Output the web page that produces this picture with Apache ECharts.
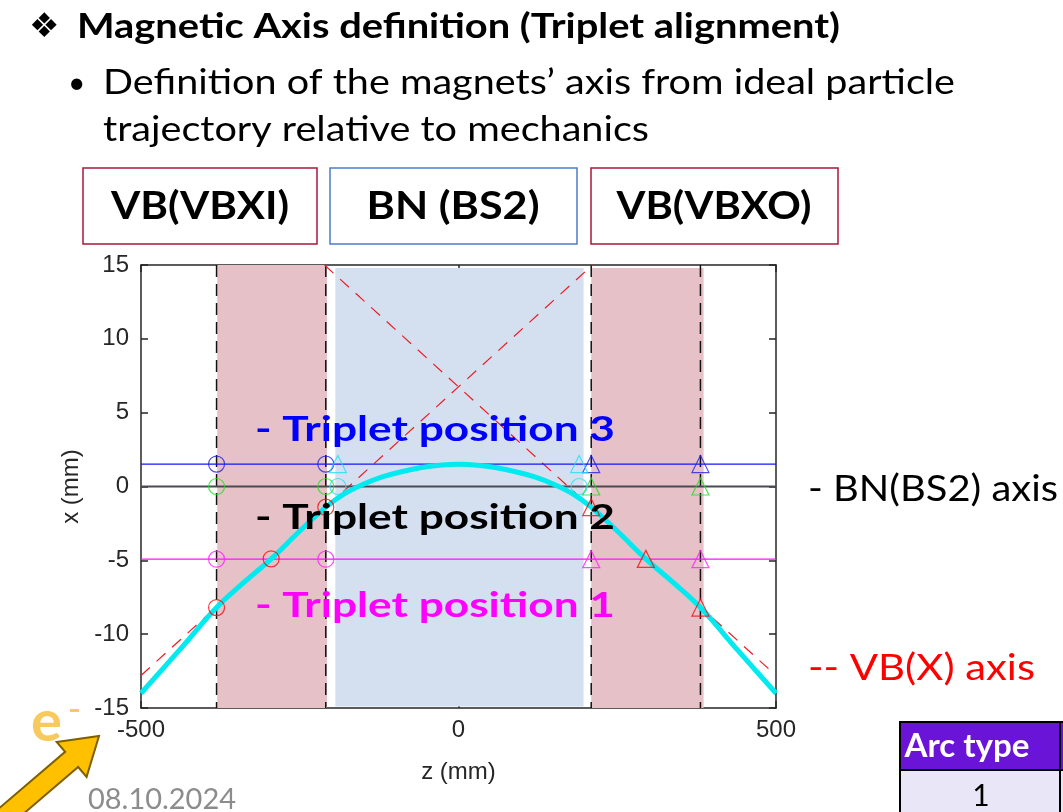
<!DOCTYPE html>
<html lang="en">
<head>
    <meta charset="UTF-8">
    <title>Magnetic Axis definition</title>
    <script src="https://cdn.jsdelivr.net/npm/echarts@6/dist/echarts.min.js"></script>
    <style>
        html, body { margin: 0; padding: 0; background: #fff; }
        #main { width: 1063px; height: 812px; }
    </style>
</head>
<body>
<div id="main"></div>
<script>
    // ---- data (z in mm, x in mm) ----
    var trajZ = [-500, -440, -381, -338, -295, -252, -209, -180, -150, -120, -90, -60, -30, 0,
                 30, 60, 90, 120, 150, 180, 209, 252, 295, 338, 381, 440, 500];
    var trajX = [-14, -11.1, -8.2, -6.5, -4.9, -3.1, -1.4, -0.5, 0.15, 0.65, 1.0, 1.27, 1.44, 1.5,
                 1.44, 1.27, 1.0, 0.65, 0.15, -0.5, -1.4, -3.1, -4.9, -6.5, -8.2, -11.1, -14];
    var vbAxisA = [[-211, 15], [500, -12.8]];
    var vbAxisB = [[-500, -12.8], [211, 15]];
    var magnetEdges = [-381, -209, 209, 381];
    var vbBands = [[-380, -207], [209, 386]];
    var bnBand = [-194, 197];
    var tripletLevels = [1.52, 0, -4.92];       // position 3, 2, 1
    var circleZ = [-381, -209];
    var triangleZ = [209, 381];
    var redCircles = [[-381, -8.2], [-295, -4.9], [-209, -1.4]];
    var redTriangles = [[209, -1.4], [295, -4.9], [381, -8.2]];
    var cyanZ = [-190, 190];
    var zRange = [-500, 500];
    var xRange = [-15, 15];

    var myChart = echarts.init(document.getElementById('main'));

    // helper to squeeze text to the width it has on the slide
    var ctx = document.createElement('canvas').getContext('2d');
    function fitScale(text, font, w) {
        ctx.font = font;
        return w / ctx.measureText(text).width;
    }
    function txt(text, x, y, w, font, fill, align) {
        return {
            type: 'text', x: x, y: y, z: 100,
            scaleX: fitScale(text, font, w),
            style: {text: text, font: font, fill: fill, align: align || 'left', verticalAlign: 'middle'}
        };
    }

    function hline(y) { return [[zRange[0], y], [zRange[1], y]]; }
    function vline(z) { return [[z, xRange[1]], [z, xRange[0]]]; }
    function atLevel(zs, y) { return zs.map(function (z) { return [z, y]; }); }

    function markers(name, data, shape, color) {
        return {
            name: name, type: 'scatter', data: data, symbol: shape, symbolSize: shape == 'circle' ? 16 : 17,
            z: 6, silent: true,
            itemStyle: {color: 'transparent', borderColor: color, borderWidth: 1.2}
        };
    }

    var series = [];
    // shaded magnet regions
    series.push({
        type: 'line', data: [], z: 1, silent: true,
        markArea: {
            silent: true,
            data: [
                [{coord: [vbBands[0][0], 15], itemStyle: {color: '#e6c1c8'}}, {coord: [vbBands[0][1], -15]}],
                [{coord: [bnBand[0], 14.8], itemStyle: {color: '#d4dff0'}}, {coord: [bnBand[1], -14.9]}],
                [{coord: [vbBands[1][0], 14.8], itemStyle: {color: '#e6c1c8'}}, {coord: [vbBands[1][1], -15]}]
            ]
        }
    });
    // magnet edges
    magnetEdges.forEach(function (z) {
        series.push({
            type: 'line', data: vline(z), symbol: 'none', z: 3, silent: true,
            lineStyle: {color: '#111', width: 1.5, type: [12, 7]}
        });
    });
    // VB(X) axes
    [vbAxisA, vbAxisB].forEach(function (d) {
        series.push({
            type: 'line', data: d, symbol: 'none', z: 3, silent: true,
            lineStyle: {color: '#ee1c25', width: 1.2, type: [12, 9]}
        });
    });
    // triplet position lines
    var levelColors = ['#1515ff', '#4a4a55', '#ff10ff'];
    tripletLevels.forEach(function (y, i) {
        series.push({
            type: 'line', data: hline(y), symbol: 'none', z: 4, silent: true,
            lineStyle: {color: levelColors[i], width: i == 1 ? 1.8 : 1.2}
        });
    });
    // trajectory
    series.push({
        type: 'line', data: trajZ.map(function (z, i) { return [z, trajX[i]]; }),
        symbol: 'none', smooth: 0.4, z: 5, silent: true,
        lineStyle: {color: '#00eaf0', width: 5}
    });
    series.push(markers('b', atLevel(circleZ, tripletLevels[0]), 'circle', '#2020e0'));
    series.push(markers('b', atLevel(triangleZ, tripletLevels[0]), 'triangle', '#2020e0'));
    series.push(markers('g', atLevel(circleZ, tripletLevels[1]), 'circle', '#22dd22'));
    series.push(markers('g', atLevel(triangleZ, tripletLevels[1]), 'triangle', '#22dd22'));
    series.push(markers('m', atLevel(circleZ, tripletLevels[2]), 'circle', '#ff20ff'));
    series.push(markers('m', atLevel(triangleZ, tripletLevels[2]), 'triangle', '#ff20ff'));
    series.push(markers('r', redCircles, 'circle', '#ee1010'));
    series.push(markers('r', redTriangles, 'triangle', '#ee1010'));
    series.push(markers('c', atLevel(cyanZ, 0), 'circle', '#20e0f0'));
    series.push(markers('c', atLevel(cyanZ, tripletLevels[0]), 'triangle', '#20e0f0'));

    // e- arrow
    var tip = [99, 736], u = [0.76, -0.65], nrm = [0.65, 0.76];
    function pt(a, b) { return [tip[0] - u[0] * a + nrm[0] * b, tip[1] - u[1] * a + nrm[1] * b]; }
    var arrowPts = [pt(0, 0), pt(36, 23), pt(36, 10), pt(140, 10), pt(140, -10), pt(36, -10), pt(36, -23)];

    var bodyFont = '35px Lato';
    var boldFont = 'bold 34px Lato';
    var boxFont = 'bold 38px Lato';

    var graphics = [
        {type: 'text', x: 29, y: 28, z: 100, style: {text: '\u2756', font: '34px "DejaVu Sans"', fill: '#000', verticalAlign: 'middle'}},
        txt('Magnetic Axis definition (Triplet alignment)', 77, 27, 763, 'bold 34px Lato', '#000'),
        {type: 'text', x: 68, y: 83, z: 100, style: {text: '\u2022', font: '30px Lato', fill: '#000', verticalAlign: 'middle'}},
        txt('Definition of the magnets\u2019 axis from ideal particle', 103, 83, 852, bodyFont, '#000'),
        txt('trajectory relative to mechanics', 103, 130, 546, bodyFont, '#000'),

        {type: 'rect', z: 100, shape: {x: 83, y: 168, width: 234, height: 76}, style: {fill: '#fff', stroke: '#a8183c', lineWidth: 1.5}},
        {type: 'rect', z: 100, shape: {x: 330, y: 168, width: 247, height: 76}, style: {fill: '#fff', stroke: '#4d7cc9', lineWidth: 1.5}},
        {type: 'rect', z: 100, shape: {x: 591, y: 168, width: 247, height: 76}, style: {fill: '#fff', stroke: '#a8183c', lineWidth: 1.5}},
        txt('VB(VBXI)', 200, 207, 178, boxFont, '#000', 'center'),
        txt('BN (BS2)', 453, 207, 173, boxFont, '#000', 'center'),
        txt('VB(VBXO)', 714, 207, 195, boxFont, '#000', 'center'),

        txt('- Triplet position 3', 255, 430, 360, boldFont, '#0000ff'),
        txt('- Triplet position 2', 255, 518, 360, boldFont, '#000000'),
        txt('- Triplet position 1', 255, 606, 360, boldFont, '#ff00ff'),

        txt('- BN(BS2) axis', 808, 489, 250, '36px Lato', '#000'),
        txt('-- VB(X) axis', 808, 668, 227, '36px Lato', '#ff0000'),

        {type: 'polygon', z: 100, shape: {points: arrowPts}, style: {fill: '#ffc000', stroke: '#7f6000', lineWidth: 2}},
        {type: 'text', x: 31, y: 722, z: 100, style: {text: 'e', font: 'bold 58px Lato', fill: '#f8c95c', verticalAlign: 'middle',
                shadowColor: 'rgba(0,0,0,0.25)', shadowBlur: 3, shadowOffsetX: 2, shadowOffsetY: 2}},
        {type: 'rect', z: 100, shape: {x: 70, y: 709, width: 9, height: 3}, style: {fill: '#f8c95c'}},
        txt('08.10.2024', 88, 800, 148, '28px Lato', '#8c8c8c'),

        {type: 'rect', z: 100, shape: {x: 900, y: 722, width: 160, height: 48}, style: {fill: '#6a14d8', stroke: '#000', lineWidth: 2}},
        {type: 'rect', z: 100, shape: {x: 1060, y: 722, width: 20, height: 48}, style: {fill: '#6a14d8', stroke: '#000', lineWidth: 2}},
        {type: 'rect', z: 100, shape: {x: 900, y: 770, width: 160, height: 50}, style: {fill: '#e9e7f7', stroke: '#000', lineWidth: 2}},
        {type: 'rect', z: 100, shape: {x: 1060, y: 770, width: 20, height: 50}, style: {fill: '#e9e7f7', stroke: '#000', lineWidth: 2}},
        txt('Arc type', 967, 747, 125, 'bold 32px Lato', '#fff', 'center'),
        {type: 'text', x: 981, y: 796, z: 100, style: {text: '1', font: '30px Lato', fill: '#000', align: 'center', verticalAlign: 'middle'}}
    ];

    var axisCommon = {
        type: 'value',
        splitLine: {show: false},
        axisLine: {show: true, onZero: false, lineStyle: {color: '#262626', width: 1.5}},
        axisTick: {show: true, inside: true, length: 7, lineStyle: {color: '#262626', width: 1.5}}
    };
    var labelStyle = {color: '#262626', fontSize: 24, fontFamily: '"Liberation Sans", Arial'};

    var option = {
        animation: false,
        backgroundColor: '#fff',
        grid: {left: 141, right: 287, top: 265, bottom: 104},
        xAxis: [
            Object.assign({}, axisCommon, {
                min: zRange[0], max: zRange[1], interval: 500, position: 'bottom',
                axisLabel: Object.assign({margin: 10}, labelStyle),
                name: 'z (mm)', nameLocation: 'middle', nameGap: 52,
                nameTextStyle: Object.assign({}, labelStyle)
            }),
            Object.assign({}, axisCommon, {
                min: zRange[0], max: zRange[1], interval: 500, position: 'top', axisLabel: {show: false}
            })
        ],
        yAxis: [
            Object.assign({}, axisCommon, {
                min: xRange[0], max: xRange[1], interval: 5, position: 'left',
                axisLabel: Object.assign({margin: 12}, labelStyle),
                name: 'x (mm)', nameLocation: 'middle', nameGap: 56,
                nameTextStyle: Object.assign({}, labelStyle)
            }),
            Object.assign({}, axisCommon, {
                min: xRange[0], max: xRange[1], interval: 5, position: 'right', axisLabel: {show: false}
            })
        ],
        graphic: graphics,
        series: series
    };
    myChart.setOption(option);
</script>
</body>
</html>
